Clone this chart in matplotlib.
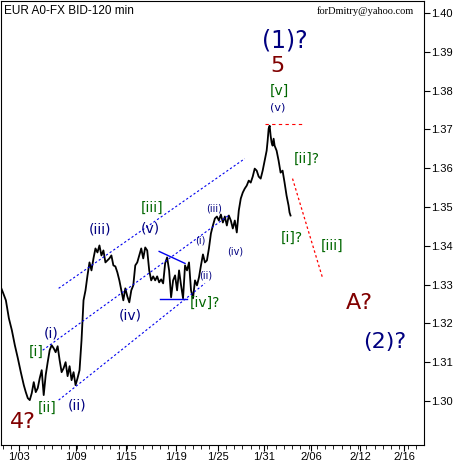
import matplotlib
matplotlib.use("Agg")
import matplotlib.pyplot as plt
import numpy as np

def P(y):  # helper: pixel row -> price
    return 1.40 - (y - 12) / 3890.0

bar_x = [0,2,5,8,11,14,17,20,23,25,27,29,31,33,35,37,39,41,43,45,47,49,51,53,55,57,59,61,63,65,67,69,71,73,75,77,79,81,83,85,87,89,91,93,95,97,99,101,103,105,107,109,111,113,115,117,119,121,123,125,127,129,131,133,135,137,139,141,143,145,147,149,151,153,155,157,159,161,163,165,167,169,171,173,175,177,179,181,183,185,187,189,191,193,195,197,199,201,203,205,207,209,211,213,215,217,219,221,223,225,227,229,231,233,235,237,239,241,243,245,247,249,251,253,255,257,259,261,263,265,267,268,269,270,271,272,273,274,275,277,279,281,283,285,287,289,290,291]
bar_y = [287,292,300,318,330,345,358,372,385,392,398,400,393,382,392,388,378,370,395,375,362,350,345,348,352,346,360,372,368,362,376,366,380,372,385,378,370,340,300,290,275,262,270,258,248,252,245,255,250,262,260,258,255,265,266,272,280,290,300,288,296,302,290,285,265,262,255,248,258,247,250,270,280,276,280,276,282,279,283,263,257,270,297,280,275,290,270,285,298,265,270,262,290,298,280,285,277,265,254,262,260,248,233,225,218,216,220,214,222,216,225,215,220,228,220,232,210,198,192,188,185,180,182,176,168,170,176,178,170,160,150,140,128,125,135,142,145,138,145,150,160,172,170,182,195,205,212,215]
price = [P(v) for v in bar_y]

tick_pos = [18,75,126,176,218,264,312,361,405]
tick_lab = ["1/03","1/09","1/15","1/19","1/25","1/31","2/06","2/12","2/16"]
y_ticks = [1.30,1.31,1.32,1.33,1.34,1.35,1.36,1.37,1.38,1.39,1.40]

fig = plt.figure(figsize=(4.54,4.61), dpi=100)
ax = fig.add_axes([0.002, 16/461, 423/454, 444/461])
ax.plot(bar_x, price, color="black", lw=1.3)

ax.set_xlim(0,425)
ax.set_ylim(P(445), P(0))
ax.yaxis.tick_right()
ax.set_yticks(y_ticks)
ax.set_yticklabels([f"{v:.2f}" for v in y_ticks], fontsize=8, family="Liberation Sans")
ax.set_xticks(tick_pos)
ax.set_xticklabels(tick_lab, fontsize=8, family="Liberation Sans")
ax.set_xticks(np.arange(2,425,8.3), minor=True)
ax.tick_params(axis='x', which='minor', length=3)
ax.tick_params(axis='both', which='major', length=4, pad=1)

blue = "#0000ee"
for (x0,y0,x1,y1) in [(58,288,245,158),(42,350,230,214),(58,400,205,283)]:
    ax.plot([x0,x1],[P(y0),P(y1)], color=blue, lw=0.8, ls=(0,(2,2)))
ax.plot([159,185],[P(251),P(263)], color=blue, lw=1)
ax.plot([160,187],[P(299),P(299)], color=blue, lw=1)
ax.plot([265,305],[P(123),P(123)], color="red", lw=0.8, ls=(0,(3,3)))
ax.plot([293,323],[P(178),P(277)], color="red", lw=0.9, ls=(0,(2,2)))

navy="#000080"; dred="#800000"; green="#006600"
labels = [
 ("(1)?",285,40,navy,17),("5",278,65,dred,16),("[v]",280,90,green,10),("(v)",278,107,navy,8),
 ("[ii]?",307,158,green,10),("[i]?",292,237,green,10),("[iii]",333,245,green,10),
 ("A?",360,303,dred,16),("(2)?",386,342,navy,16),("4?",22,422,dred,16),
 ("[ii]",46,408,green,10),("(ii)",77,405,navy,10),("[i]",35,352,green,10),("(i)",50,333,navy,10),
 ("(iii)",100,229,navy,10),("(v)",150,228,navy,10),("[iii]",152,207,green,10),("(iv)",130,315,navy,10),
 ("[iv]?",205,303,green,10),("(i)",200,240,navy,7),("(ii)",206,275,navy,7),("(iii)",214,208,navy,7),("(iv)",235,251,navy,7),
]
for t,x,y,c,s in labels:
    ax.text(x,P(y),t,color=c,fontsize=s,ha="center",va="center",family="DejaVu Sans")

ax.text(3,P(10),"EUR A0-FX BID-120 min",fontsize=8.5,ha="left",va="center",family="Liberation Sans")
ax.text(415,P(10),"forDmitry@yahoo.com",fontsize=7.5,ha="right",va="center",family="Liberation Serif")

fig.savefig("out.png", dpi=100)
